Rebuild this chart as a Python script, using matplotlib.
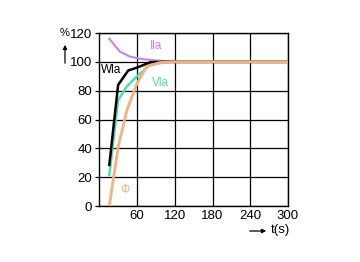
import matplotlib
matplotlib.use("Agg")
import matplotlib.pyplot as plt

plt.rcParams['font.family'] = ['Liberation Sans', 'DejaVu Sans']

x_ticks = [60, 120, 180, 240, 300]
y_ticks = [0, 20, 40, 60, 80, 100, 120]

t_wla = [16, 30, 46, 60, 81, 100, 300]
wla = [28.5, 84, 94, 96, 99.7, 100, 100]

t_vla = [16, 30, 44, 60, 81, 110, 300]
vla = [21.5, 73.5, 83, 90, 98, 100, 100]

t_phi = [16, 30, 44, 60, 75, 96, 120, 300]
phi = [0, 41, 66.6, 85, 96.7, 99.5, 100, 100]

t_ila = [16, 33, 49, 70, 102, 130, 300]
ila = [116, 107, 103.6, 101.8, 100.6, 100, 100]

fig = plt.figure(figsize=(3.6, 2.62), dpi=100)
ax = fig.add_axes([0.2757, 0.2137, 0.5243, 0.6603])

ax.plot(t_vla, vla, color='#48e0b0', lw=1.8, zorder=4)
ax.plot(t_ila, ila, color='#c084f0', lw=1.5, zorder=4)
ax.plot(t_wla, wla, color='black', lw=1.8, zorder=5)
ax.plot(t_phi, phi, color='#f5b07c', lw=2.0, zorder=6)

ax.set_xlim(0, 300)
ax.set_ylim(0, 120)
ax.set_xticks(x_ticks)
ax.set_yticks(y_ticks)
ax.grid(True, color='black', lw=0.9)
for s in ax.spines.values():
    s.set_linewidth(1.0)
ax.tick_params(axis='both', labelsize=9.5, length=3, width=0.9, pad=2)
ax.tick_params(axis='x', length=0, pad=3)

ax.text(80, 111, 'Ila', color='#c084f0', fontsize=8.5, ha='left', va='center')
ax.text(3, 94, 'Wla', color='black', fontsize=8.5, ha='left', va='center')
ax.text(84, 85.5, 'Vla', color='#48e0b0', fontsize=8.5, ha='left', va='center')
ax.text(33, 11, 'Φ', color='#f5b07c', fontsize=8.5, ha='left', va='center')

fig.text(65/360, 1 - 33/262, '%', fontsize=8, ha='center', va='center')
fig.add_artist(matplotlib.patches.FancyArrowPatch((65/360, 1 - 66/262), (65/360, 1 - 42/262),
               transform=fig.transFigure, arrowstyle='-|>', mutation_scale=6, color='black', lw=0.9))
fig.add_artist(matplotlib.patches.FancyArrowPatch((247/360, 1 - 231/262), (269/360, 1 - 231/262),
               transform=fig.transFigure, arrowstyle='-|>', mutation_scale=6, color='black', lw=0.9))
fig.text(271/360, 1 - 230/262, 't(s)', fontsize=9.5, ha='left', va='center')

fig.savefig('out.png', dpi=100)
